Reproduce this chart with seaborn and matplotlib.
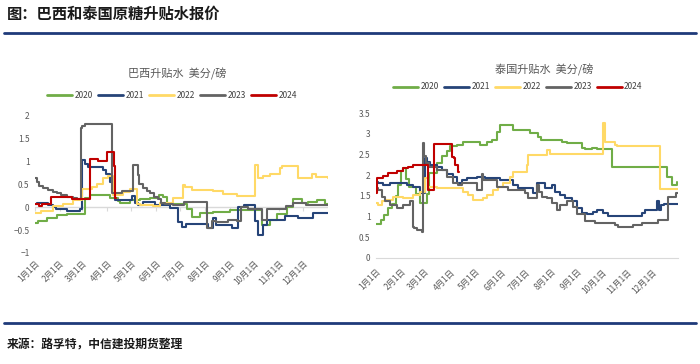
import pandas as pd
import matplotlib
matplotlib.use("Agg")
import matplotlib.pyplot as plt
import seaborn as sns
from matplotlib.lines import Line2D

years = ["2020", "2021", "2022", "2023", "2024"]
colors = ["#70ad47", "#264478", "#ffd966", "#636363", "#c00000"]
month_days = [0, 31, 59, 90, 120, 151, 181, 212, 243, 273, 304, 334]
month_labels = [f"{m}月1日" for m in range(1, 13)]

# Brazil premium, day of year -> US cents/lb
br_2020_day = [0, 4, 15, 27, 40, 62, 68, 93, 103, 106, 118, 131, 143, 155, 160, 164, 189, 196, 205, 222, 243, 283, 293, 301, 314, 321, 333, 340, 351, 361, 365]
br_2020_val = [-0.34, -0.3, -0.24, -0.17, -0.14, 0.2, 0.26, 0.2, 0.13, 0.1, 0.15, 0.17, 0.2, 0.27, 0.23, 0.06, -0.05, -0.22, -0.13, -0.1, -0.07, -0.38, -0.27, -0.15, 0.0, 0.17, 0.1, 0.12, 0.16, 0.08, 0.08]
br_2021_day = [0, 3, 16, 22, 26, 40, 56, 58, 62, 66, 85, 89, 93, 97, 100, 121, 125, 128, 134, 150, 168, 178, 183, 188, 215, 222, 225, 245, 253, 260, 274, 278, 284, 289, 311, 328, 346, 365]
br_2021_val = [0.06, 0.1, 0.05, 0.0, -0.05, -0.08, -0.05, 1.04, 0.95, 0.88, 0.82, 0.72, 0.55, 0.3, 0.15, 0.25, 0.1, 0.05, 0.11, 0.05, -0.02, -0.33, -0.43, -0.37, -0.45, -0.23, -0.38, -0.45, 0.0, 0.05, -0.3, -0.6, -0.38, -0.27, -0.2, -0.24, -0.12, -0.12]
br_2022_day = [0, 8, 22, 35, 47, 58, 71, 77, 85, 91, 97, 110, 118, 127, 131, 147, 156, 172, 184, 187, 196, 222, 234, 252, 271, 274, 278, 284, 293, 305, 308, 328, 342, 345, 350, 365]
br_2022_val = [-0.12, -0.08, 0.02, 0.08, 0.15, 0.4, 0.43, 0.5, 0.63, 0.68, 0.27, 0.33, 0.4, 0.07, 0.05, 0.02, 0.1, 0.2, 0.49, 0.45, 0.37, 0.35, 0.28, 0.25, 0.25, 0.93, 0.64, 0.68, 0.72, 0.86, 0.9, 0.63, 0.63, 0.72, 0.65, 0.63]
br_2023_day = [0, 3, 5, 10, 16, 22, 28, 33, 40, 47, 52, 57, 59, 62, 96, 100, 108, 122, 128, 130, 134, 139, 143, 148, 153, 157, 162, 172, 185, 200, 214, 221, 226, 240, 252, 257, 265, 283, 289, 300, 313, 322, 338, 350, 365]
br_2023_val = [0.64, 0.55, 0.46, 0.42, 0.38, 0.34, 0.3, 0.26, 0.22, 0.2, 0.17, 1.73, 1.78, 1.82, 0.3, 0.32, 0.35, 0.92, 0.7, 0.5, 0.42, 0.36, 0.3, 0.22, 0.18, 0.1, 0.07, 0.05, 0.12, 0.12, -0.45, -0.3, -0.32, -0.28, -0.3, 0.0, -0.05, -0.27, -0.03, -0.03, 0.02, 0.1, 0.05, 0.05, 0.05]
br_2024_day = [0, 5, 9, 14, 20, 46, 68, 78, 90, 98, 100, 101]
br_2024_val = [0.06, 0.02, 0.08, 0.08, 0.22, 0.18, 1.05, 1.0, 1.2, 0.9, 0.2, 0.2]

# Thailand premium, day of year -> US cents/lb
th_2020_day = [0, 6, 10, 15, 19, 24, 27, 30, 33, 36, 40, 48, 53, 62, 64, 74, 80, 86, 89, 98, 105, 126, 134, 140, 146, 150, 166, 186, 196, 200, 225, 231, 249, 253, 261, 267, 285, 352, 358, 364]
th_2020_val = [0.81, 0.9, 1.03, 1.2, 1.3, 1.5, 1.75, 2.1, 2.16, 1.9, 1.7, 1.55, 1.33, 1.55, 2.04, 2.28, 2.45, 2.57, 2.69, 2.73, 2.81, 2.73, 2.81, 2.85, 3.05, 3.2, 3.09, 3.01, 2.93, 2.85, 2.81, 2.77, 2.65, 2.62, 2.66, 2.62, 2.2, 1.96, 1.76, 1.84]
th_2021_day = [0, 3, 8, 17, 37, 45, 53, 59, 62, 65, 74, 80, 86, 93, 98, 104, 110, 122, 132, 150, 166, 172, 180, 190, 195, 204, 213, 216, 222, 229, 237, 243, 249, 255, 262, 267, 274, 281, 322, 325, 340, 342, 344, 348, 365]
th_2021_val = [1.84, 1.8, 1.76, 1.8, 1.76, 1.72, 1.56, 2.4, 2.32, 2.24, 2.2, 2.12, 2.03, 1.95, 1.8, 1.88, 1.92, 1.95, 1.92, 1.88, 1.76, 1.68, 1.68, 1.56, 1.8, 1.68, 1.76, 1.6, 1.52, 1.44, 1.36, 1.2, 1.08, 1.05, 1.11, 1.15, 1.08, 1.02, 1.08, 1.15, 1.38, 1.15, 1.28, 1.3, 1.3]
th_2022_day = [0, 2, 7, 12, 21, 33, 45, 53, 59, 63, 74, 105, 111, 117, 129, 134, 141, 148, 154, 162, 166, 183, 184, 207, 210, 274, 277, 289, 291, 343, 365]
th_2022_val = [1.32, 1.28, 1.36, 1.4, 1.48, 1.44, 1.52, 1.6, 1.92, 1.72, 1.68, 1.6, 1.52, 1.4, 1.44, 1.52, 1.64, 1.72, 1.8, 1.95, 2.07, 2.24, 2.48, 2.6, 2.5, 3.25, 2.81, 2.73, 2.71, 1.66, 1.66]
th_2023_day = [0, 3, 7, 11, 17, 25, 33, 41, 45, 46, 50, 56, 57, 58, 60, 64, 74, 86, 93, 99, 104, 122, 128, 129, 146, 160, 180, 184, 195, 197, 201, 207, 213, 219, 222, 231, 238, 243, 253, 265, 289, 293, 311, 322, 341, 353, 362, 365]
th_2023_val = [1.68, 1.64, 1.48, 1.36, 1.28, 1.2, 1.28, 1.36, 0.75, 0.71, 0.67, 0.63, 2.77, 2.45, 2.3, 2.2, 2.12, 1.95, 1.8, 1.76, 1.8, 1.64, 2.03, 1.88, 1.72, 1.64, 1.56, 1.44, 1.76, 1.6, 1.48, 1.44, 1.32, 1.15, 1.28, 1.36, 1.23, 1.05, 0.88, 0.84, 0.79, 0.75, 0.79, 0.84, 0.92, 1.48, 1.56, 1.56]
th_2024_day = [0, 1, 8, 15, 25, 33, 39, 45, 63, 70, 92, 94, 96, 99, 100]
th_2024_val = [1.56, 1.92, 1.97, 2.04, 2.1, 2.16, 2.19, 2.24, 1.64, 2.75, 2.44, 2.4, 2.24, 2.08, 2.08]


def to_frame(series):
    rows = []
    for year, days, vals in series:
        for d, v in zip(days, vals):
            rows.append({"day": d, "value": v, "year": year})
    return pd.DataFrame(rows)


brazil = to_frame([("2020", br_2020_day, br_2020_val), ("2021", br_2021_day, br_2021_val),
                   ("2022", br_2022_day, br_2022_val), ("2023", br_2023_day, br_2023_val),
                   ("2024", br_2024_day, br_2024_val)])
thai = to_frame([("2020", th_2020_day, th_2020_val), ("2021", th_2021_day, th_2021_val),
                 ("2022", th_2022_day, th_2022_val), ("2023", th_2023_day, th_2023_val),
                 ("2024", th_2024_day, th_2024_val)])

sns.set_style("white")
plt.rcParams["font.family"] = ["Noto Sans CJK SC", "DejaVu Sans"]
plt.rcParams["axes.unicode_minus"] = True

fig = plt.figure(figsize=(7, 3.64), dpi=100)
palette = dict(zip(years, colors))
tick_color = "#595959"


def draw(ax, data, title, ylim, yticks, ylabels, title_xy, legend_xy):
    sns.lineplot(data=data, x="day", y="value", hue="year", hue_order=years, palette=palette,
                 estimator=None, sort=False, drawstyle="steps-post", lw=1.5, legend=False, ax=ax)
    ax.set_xlim(0, 365)
    ax.set_ylim(*ylim)
    ax.set_xlabel("")
    ax.set_ylabel("")
    ax.set_yticks(yticks)
    ax.set_yticklabels(ylabels, fontsize=6, color=tick_color)
    ax.set_xticks(month_days)
    ax.set_xticklabels(month_labels, fontsize=6, color=tick_color, rotation=45,
                       ha="right", rotation_mode="anchor")
    ax.tick_params(axis="both", length=0, pad=4)
    for s in ax.spines.values():
        s.set_visible(False)
    ax.text(title_xy[0], title_xy[1], title, transform=ax.transAxes, ha="center", va="center",
            fontsize=8, color=tick_color)
    handles = [Line2D([], [], color=c, lw=2) for c in colors]
    ax.legend(handles, years, loc="center", bbox_to_anchor=legend_xy, ncol=5, frameon=False,
              fontsize=6, handlelength=3.0, columnspacing=0.6, handletextpad=0.3,
              labelcolor="#404040")


ax1 = fig.add_axes([35 / 700, 111 / 364, 293 / 700, 137.5 / 364])
draw(ax1, brazil, "巴西升贴水  美分/磅", (-1, 2), [-1, -0.5, 0, 0.5, 1, 1.5, 2],
     ["−1", "−0.5", "0", "0.5", "1", "1.5", "2"], (0.485, 1.30), (0.468, 1.144))
ax1.axhline(0, color="#d9d9d9", lw=1, zorder=0)
zero_axis = ax1.secondary_xaxis(1 / 3)
zero_axis.set_xticks(month_days)
zero_axis.set_xticklabels([])
zero_axis.tick_params(axis="x", direction="out", length=3, color="#d9d9d9")
zero_axis.spines["bottom"].set_visible(False)
zero_axis.spines["top"].set_visible(False)

ax2 = fig.add_axes([376 / 700, 106.3 / 364, 302 / 700, 144.7 / 364])
draw(ax2, thai, "泰国升贴水  美分/磅", (0, 3.5), [0, 0.5, 1, 1.5, 2, 2.5, 3, 3.5],
     ["0", "0.5", "1", "1.5", "2", "2.5", "3", "3.5"], (0.556, 1.297), (0.47, 1.18))
ax2.spines["bottom"].set_visible(True)
ax2.spines["bottom"].set_color("#d9d9d9")
ax2.tick_params(axis="x", direction="out", length=3, color="#d9d9d9")

fig.text(7 / 700, 1 - 13.5 / 364, "图：巴西和泰国原糖升贴水报价", fontsize=11, fontweight="bold",
         ha="left", va="center", color="#1a1a1a")
fig.add_artist(Line2D([4 / 700, 696 / 700], [1 - 32.5 / 364] * 2, color="#1f3a7a", lw=2))
fig.add_artist(Line2D([4 / 700, 696 / 700], [1 - 322.7 / 364] * 2, color="#1f3a7a", lw=2))
fig.text(7 / 700, 1 - 345 / 364, "来源：路孚特，中信建投期货整理", fontsize=8.5, fontweight="bold",
         fontstyle="italic", ha="left", va="center", color="#1a1a1a")

fig.savefig("out.png", dpi=100)
